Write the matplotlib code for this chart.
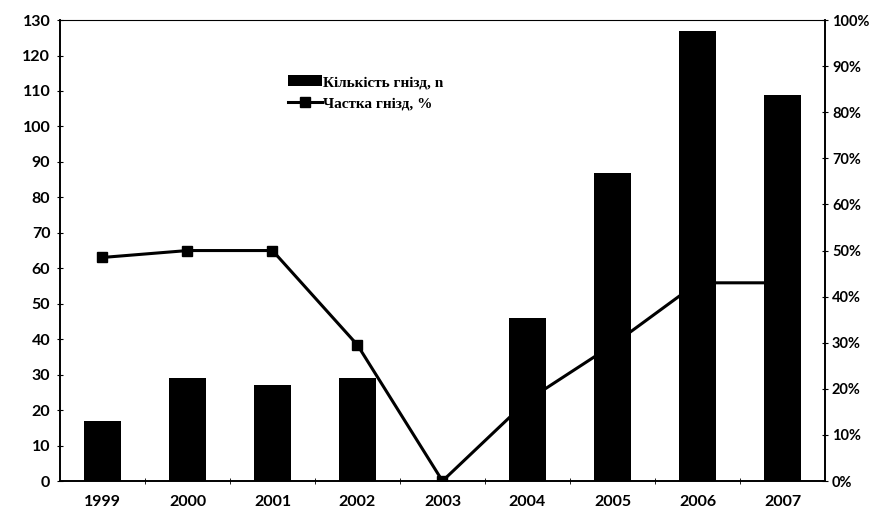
import matplotlib.pyplot as plt
import numpy as np

years = ['1999', '2000', '2001', '2002', '2003', '2004', '2005', '2006', '2007']
nests = [17, 29, 27, 29, 0, 46, 87, 127, 109]
share = [48.5, 50, 50, 29.5, 0, 17.5, 29.5, 43, 43]

fig = plt.figure(figsize=(8.73, 5.15), dpi=100)
ax = fig.add_axes([0.0687, 0.066, 0.8763, 0.895])
ax2 = ax.twinx()

x = np.arange(len(years))

# line behind bars, as in the original
ax2.plot(x, share, color='black', linewidth=2.2, marker='s', markersize=7.5,
         zorder=1, label='Частка гнізд, %')
ax.bar(x, nests, width=0.43, color='black', zorder=3, label='Кількість гнізд, n')

ax.set_zorder(ax2.get_zorder() + 1)
ax.patch.set_visible(False)

ax.set_xlim(-0.5, len(years) - 0.5)
ax.set_ylim(0, 130)
ax2.set_ylim(0, 100)
ax.set_yticks(range(0, 131, 10))
ax2.set_yticks(range(0, 101, 10))
ax2.set_yticklabels([f'{v}%' for v in range(0, 101, 10)])

ax.set_xticks(x)
ax.set_xticklabels(years)
ax.set_xticks(x[:-1] + 0.5, minor=True)
ax.tick_params(axis='x', which='major', length=0, pad=10)
ax.tick_params(axis='x', which='minor', length=4, direction='inout')
ax.tick_params(axis='y', length=4, direction='inout', pad=5)
ax2.tick_params(axis='y', length=4, direction='inout', pad=3)

for a, size in ((ax, 11.5), (ax2, 10.5)):
    for lbl in a.get_xticklabels() + a.get_yticklabels():
        lbl.set_fontfamily('Lato')
        lbl.set_fontsize(size)
        lbl.set_fontweight('bold')
    for s in a.spines.values():
        s.set_linewidth(1.2)
ax.spines['top'].set_linestyle((0, (4, 1)))
ax.spines['top'].set_linewidth(0.8)
ax2.spines['top'].set_visible(False)

h1, l1 = ax.get_legend_handles_labels()
h2, l2 = ax2.get_legend_handles_labels()
ax.legend(h1 + h2, l1 + l2, loc='upper left', bbox_to_anchor=(0.28, 0.91),
          frameon=False, handlelength=2.2, handletextpad=0.1, labelspacing=0.5,
          prop={'family': 'Liberation Serif', 'weight': 'bold', 'size': 11})

fig.savefig('out.png', dpi=100)
